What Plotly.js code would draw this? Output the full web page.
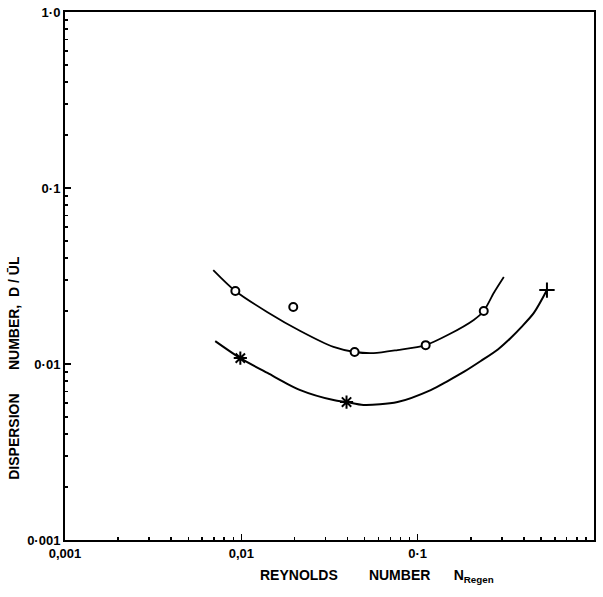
<!DOCTYPE html>
<html>
<head>
<meta charset="utf-8">
<script src="https://cdn.plot.ly/plotly-3.0.1.min.js"></script>
<style>html,body{margin:0;padding:0;background:#fff;}#chart{width:603px;height:597px;}</style>
</head>
<body>
<div id="chart"></div>
<script>
// Upper curve (circles)
const upperCurveX = [0.00693, 0.00925, 0.01407, 0.0216, 0.0333, 0.0439, 0.0562, 0.0769, 0.111, 0.148, 0.208, 0.237, 0.270, 0.308];
const upperCurveY = [0.0342, 0.0260, 0.0197, 0.0154, 0.0125, 0.0117, 0.01153, 0.0120, 0.0128, 0.0146, 0.0178, 0.0200, 0.0253, 0.0312];
// Lower curve (stars / plus)
const lowerCurveX = [0.00711, 0.00987, 0.01407, 0.0216, 0.0333, 0.0395, 0.0493, 0.0769, 0.1186, 0.148, 0.1824, 0.228, 0.285, 0.337, 0.385, 0.456, 0.541];
const lowerCurveY = [0.0135, 0.0108, 0.00889, 0.00711, 0.00624, 0.00608, 0.00585, 0.00608, 0.00711, 0.00800, 0.00901, 0.0104, 0.0121, 0.01406, 0.0161, 0.0195, 0.0263];
// Measured points
const circleX = [0.00925, 0.0197, 0.0439, 0.111, 0.237];
const circleY = [0.0260, 0.0211, 0.0117, 0.0128, 0.0200];
const starX = [0.00987, 0.0395];
const starY = [0.0108, 0.00608];
const plusX = [0.541];
const plusY = [0.0263];
// Ticks
const xTickVals = [0.001, 0.01, 0.1, 1.0];
const xTickText = ['0,001', '0,01', '0·1', '1·0'];
const yTickVals = [0.001, 0.01, 0.1, 1.0];
const yTickText = ['0·001', '0·01', '0·1', '1·0'];
const minorVals = [];
[0.001, 0.01, 0.1].forEach(d => { for (let k = 2; k <= 9; k++) minorVals.push(d * k); });

const traces = [
  {x: upperCurveX, y: upperCurveY, mode: 'lines', line: {color: '#000', width: 1.8, shape: 'spline', smoothing: 0.8}, hoverinfo: 'skip'},
  {x: lowerCurveX, y: lowerCurveY, mode: 'lines', line: {color: '#000', width: 2, shape: 'spline', smoothing: 0.8}, hoverinfo: 'skip'},
  {x: circleX, y: circleY, mode: 'markers', marker: {symbol: 'circle', size: 8, color: '#fff', line: {color: '#000', width: 2}}},
  {x: starX, y: starY, mode: 'markers', marker: {symbol: 'asterisk-open', size: 11, color: '#000', line: {color: '#000', width: 2}}},
  {x: plusX, y: plusY, mode: 'markers', marker: {symbol: 'cross-thin-open', size: 11, color: '#000', line: {color: '#000', width: 2}}}
];

const font = {family: 'Liberation Sans, Arial, sans-serif', size: 13, color: '#000', weight: 'bold'};
const titleFont = {family: font.family, size: 14, color: '#000', weight: 'bold'};
const layout = {
  width: 603, height: 597,
  margin: {l: 65, r: 9, t: 12, b: 57},
  paper_bgcolor: '#fff', plot_bgcolor: '#fff',
  showlegend: false,
  font: font,
  xaxis: {
    type: 'log', range: [-3, 0], showgrid: false, zeroline: false,
    showline: true, linecolor: '#000', linewidth: 2, mirror: true,
    ticks: 'inside', ticklen: 6, tickwidth: 1.5, tickcolor: '#000',
    tickmode: 'array', tickvals: xTickVals, ticktext: xTickText,
    tickfont: font,
    minor: {tickmode: 'array', tickvals: minorVals, ticks: 'inside', ticklen: 3, tickwidth: 1.5, tickcolor: '#000', showgrid: false}
  },
  yaxis: {
    type: 'log', range: [-3, 0], showgrid: false, zeroline: false,
    showline: true, linecolor: '#000', linewidth: 2, mirror: true,
    ticks: 'inside', ticklen: 6, tickwidth: 1.5, tickcolor: '#000',
    tickmode: 'array', tickvals: yTickVals, ticktext: yTickText,
    tickfont: font,
    minor: {tickmode: 'array', tickvals: minorVals, ticks: 'inside', ticklen: 3, tickwidth: 1.5, tickcolor: '#000', showgrid: false}
  },
  annotations: [
    {text: 'REYNOLDS\u00a0\u00a0\u00a0\u00a0\u00a0\u00a0\u00a0\u00a0NUMBER\u00a0\u00a0\u00a0\u00a0\u00a0\u00a0N<sub>Regen</sub>', xref: 'paper', yref: 'paper',
     x: 0.589, y: -0.068, xanchor: 'center', yanchor: 'middle', showarrow: false, font: titleFont},
    {text: 'DISPERSION\u00a0\u00a0\u00a0\u00a0\u00a0\u00a0NUMBER,\u00a0\u00a0D\u00a0/\u00a0ŪL', xref: 'paper', yref: 'paper',
     x: -0.0966, y: 0.326, xanchor: 'center', yanchor: 'middle', textangle: -90, showarrow: false, font: titleFont}
  ]
};
Plotly.newPlot('chart', traces, layout, {displayModeBar: false, staticPlot: true});
</script>
</body>
</html>
